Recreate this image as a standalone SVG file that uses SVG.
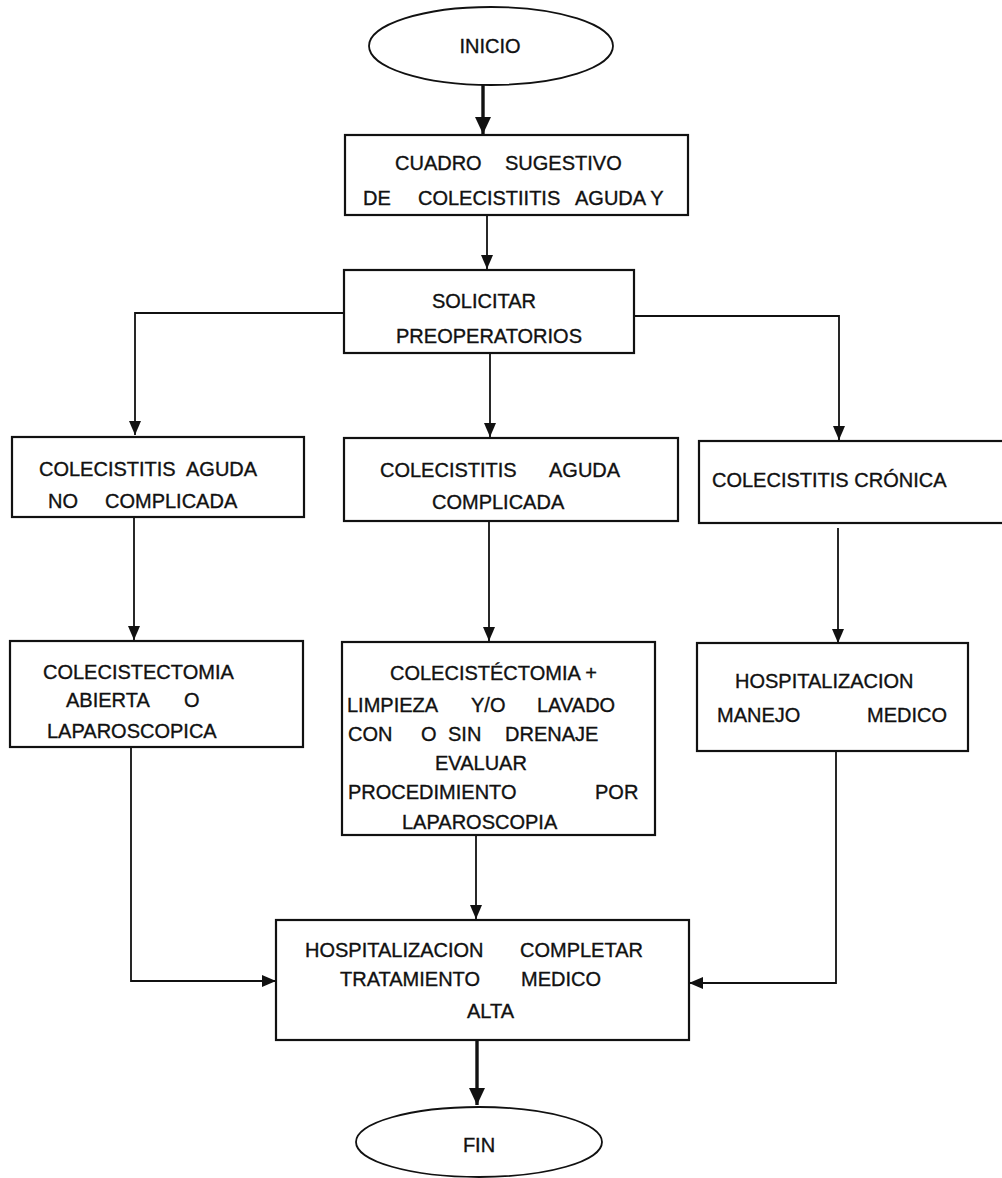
<svg xmlns="http://www.w3.org/2000/svg" width="1002" height="1178" viewBox="0 0 1002 1178">
<style>
.box{fill:#fff;stroke:#111;stroke-width:2.2}
.t{font-family:"Liberation Sans",Arial,sans-serif;font-size:20px;fill:#111;stroke:#111;stroke-width:0.35}
.c{text-anchor:middle}
.ln{fill:none;stroke:#111;stroke-width:1.8}
.thick{fill:none;stroke:#111;stroke-width:3.4}
</style>
<defs>
<marker id="ah" markerUnits="userSpaceOnUse" markerWidth="16" markerHeight="14" refX="14" refY="6" orient="auto">
<path d="M0,0 L14,6 L0,12 Z" fill="#111"/>
</marker>
<marker id="ahb" markerUnits="userSpaceOnUse" markerWidth="20" markerHeight="18" refX="17" refY="8" orient="auto">
<path d="M0,0 L17,8 L0,16 Z" fill="#111"/>
</marker>
</defs>
<rect width="1002" height="1178" fill="#fff"/>
<g id="connectors">
<path class="thick" d="M483,85 L483,134" marker-end="url(#ahb)"/>
<path class="ln" d="M487,215 L487,269" marker-end="url(#ah)"/>
<path class="ln" d="M344,313 L135,313 L135,435" marker-end="url(#ah)"/>
<path class="ln" d="M490,353 L490,437" marker-end="url(#ah)"/>
<path class="ln" d="M634,316 L839,316 L839,440" marker-end="url(#ah)"/>
<path class="ln" d="M134,518 L134,640" marker-end="url(#ah)"/>
<path class="ln" d="M489,521 L489,641" marker-end="url(#ah)"/>
<path class="ln" d="M838,528 L838,643" marker-end="url(#ah)"/>
<path class="ln" d="M131,747 L131,981 L276,981" marker-end="url(#ah)"/>
<path class="ln" d="M476,835 L476,919" marker-end="url(#ah)"/>
<path class="ln" d="M836,751 L836,983 L689,983" marker-end="url(#ah)"/>
<path class="thick" d="M477,1040 L477,1105" marker-end="url(#ahb)"/>
</g>
<g id="inicio">
<ellipse cx="491" cy="46" rx="122" ry="39" fill="#fff" stroke="#111" stroke-width="1.8"/>
<text class="t c" x="490" y="53">INICIO</text>
</g>
<g id="cuadro">
<rect class="box" x="345" y="135" width="343" height="80"/>
<text class="t"><tspan x="395" y="170">CUADRO</tspan><tspan x="505" y="170">SUGESTIVO</tspan><tspan x="363" y="205">DE</tspan><tspan x="418" y="205">COLECISTIITIS</tspan><tspan x="575" y="205">AGUDA Y</tspan></text>
</g>
<g id="solicitar">
<rect class="box" x="344" y="270" width="290" height="83"/>
<text class="t c"><tspan x="484" y="308">SOLICITAR</tspan><tspan x="489" y="343">PREOPERATORIOS</tspan></text>
</g>
<g id="aguda-no-complicada">
<rect class="box" x="12" y="437" width="292" height="80"/>
<text class="t"><tspan x="39" y="476">COLECISTITIS</tspan><tspan x="186" y="476">AGUDA</tspan><tspan x="48" y="508">NO</tspan><tspan x="105" y="508">COMPLICADA</tspan></text>
</g>
<g id="aguda-complicada">
<rect class="box" x="344" y="438" width="334" height="83"/>
<text class="t"><tspan x="380" y="477">COLECISTITIS</tspan><tspan x="549" y="477">AGUDA</tspan><tspan x="432" y="509">COMPLICADA</tspan></text>
</g>
<g id="cronica">
<rect class="box" x="699" y="441" width="310" height="82"/>
<text class="t"><tspan x="712" y="487">COLECISTITIS CRÓNICA</tspan></text>
</g>
<g id="colecistectomia">
<rect class="box" x="10" y="641" width="293" height="106"/>
<text class="t"><tspan x="43" y="679">COLECISTECTOMIA</tspan><tspan x="66" y="707">ABIERTA</tspan><tspan x="184" y="707">O</tspan><tspan x="47" y="738">LAPAROSCOPICA</tspan></text>
</g>
<g id="colecistectomia-limpieza">
<rect class="box" x="342" y="642" width="313" height="193"/>
<text class="t"><tspan x="390" y="680">COLECISTÉCTOMIA +</tspan><tspan x="347" y="712">LIMPIEZA</tspan><tspan x="471" y="712">Y/O</tspan><tspan x="537" y="712">LAVADO</tspan><tspan x="348" y="741">CON</tspan><tspan x="421" y="741">O</tspan><tspan x="448" y="741">SIN</tspan><tspan x="505" y="741">DRENAJE</tspan><tspan x="435" y="770">EVALUAR</tspan><tspan x="348" y="799">PROCEDIMIENTO</tspan><tspan x="595" y="799">POR</tspan><tspan x="402" y="829">LAPAROSCOPIA</tspan></text>
</g>
<g id="hospitalizacion-manejo">
<rect class="box" x="697" y="643" width="271" height="108"/>
<text class="t"><tspan x="735" y="688">HOSPITALIZACION</tspan><tspan x="717" y="722">MANEJO</tspan><tspan x="867" y="722">MEDICO</tspan></text>
</g>
<g id="hospitalizacion-alta">
<rect class="box" x="276" y="920" width="413" height="120"/>
<text class="t"><tspan x="305" y="957">HOSPITALIZACION</tspan><tspan x="520" y="957">COMPLETAR</tspan><tspan x="340" y="986">TRATAMIENTO</tspan><tspan x="521" y="986">MEDICO</tspan><tspan x="467" y="1018">ALTA</tspan></text>
</g>
<g id="fin">
<ellipse cx="479" cy="1142" rx="123" ry="35" fill="#fff" stroke="#111" stroke-width="1.8"/>
<text class="t c" x="479" y="1152">FIN</text>
</g>
</svg>
